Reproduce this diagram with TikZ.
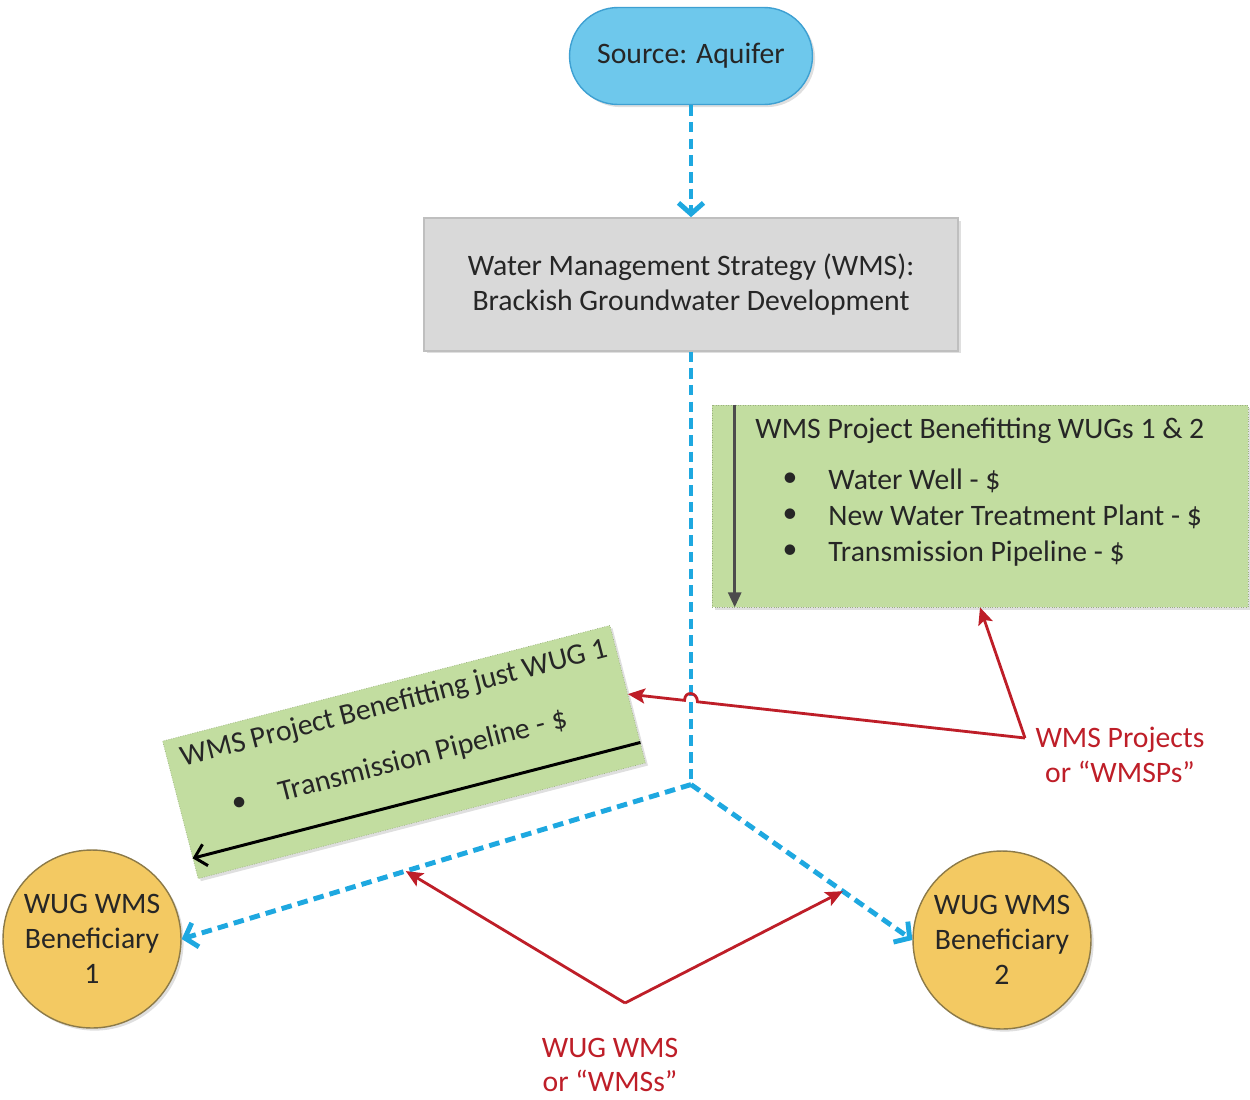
\documentclass[tikz,border=0pt]{standalone}
\usepackage{fontspec}
\setmainfont{Carlito}
\usepackage{xcolor}
\usepackage{tikz}
\usetikzlibrary{arrows.meta, positioning, calc, shadows}

\definecolor{aqua}{RGB}{110,200,236}
\definecolor{aquaedge}{RGB}{62,160,210}
\definecolor{flow}{RGB}{30,168,224}
\definecolor{boxgray}{RGB}{217,217,217}
\definecolor{leaf}{RGB}{194,221,160}
\definecolor{gold}{RGB}{243,201,98}
\definecolor{goldedge}{RGB}{140,122,72}
\definecolor{tag}{RGB}{190,30,40}

\begin{document}
\begin{tikzpicture}[
        x=0.02cm, y=-0.02cm,
        font=\fontsize{16.9}{19.8}\selectfont,
        lift/.style={drop shadow={opacity=0.25, shadow xshift=1.5pt, shadow yshift=-1.5pt}},
        source/.style={rectangle, rounded corners=0.97cm, fill=aqua, draw=aquaedge, thick,
            minimum width=4.86cm, minimum height=1.94cm, text=black!85, lift},
        strategy/.style={rectangle, fill=boxgray, draw=black!25, thick, align=center,
            minimum width=10.68cm, minimum height=2.66cm, text=black!85, lift},
        project/.style={rectangle, fill=leaf, draw=leaf!80!black, densely dotted, thin, lift},
        user/.style={circle, fill=gold, draw=goldedge, thick, align=center, inner sep=0,
            minimum size=3.56cm, text=black!85, lift},
        txt/.style={inner sep=0, text=black!85},
        tagtext/.style={align=center, text=tag},
        flowdash/.style={draw=flow, line width=2.8pt, dash pattern=on 6pt off 3.5pt},
        flowline/.style={flowdash, -{Straight Barb[length=2.2mm, width=5mm]}},
        tagline/.style={draw=tag, line width=1.6pt, -{Stealth[length=3.4mm, width=3mm, inset=0.7mm]}},
        garrow/.style={draw=black!70, line width=1.6pt, -{Triangle[length=3mm, width=2.6mm]}},
        karrow/.style={draw=black, line width=1.7pt, -{Straight Barb[length=2.2mm, width=4.4mm]}}
    ]
        \useasboundingbox (0,0) rectangle (1250,1099);

        \node[source] (src) at (691,56) {Source: Aquifer};
        \node[strategy, below=2.24cm of src] (wms) {Water Management Strategy (WMS):\\Brackish Groundwater Development};
        \coordinate (fork) at ($(wms.south)+(0,433)$);

        \node[user] (u1) at (92,939) {WUG WMS\\Beneficiary\\1};
        \node[user] (u2) at (1002,940) {WUG WMS\\Beneficiary\\2};

        % project shared by both users
        \node[project, minimum width=10.72cm, minimum height=4.04cm] (bx2) at (980,506) {};
        \node[txt, anchor=base west] (h2) at (755,438) {WMS Project Benefitting WUGs 1 \& 2};
        \foreach \t [count=\i] in {Water Well - \$, New Water Treatment Plant - \$, Transmission Pipeline - \$} {
            \node[txt] (d2\i) at (790,{444+36*\i}) {\textbullet};
            \node[txt, anchor=base west] (i2\i) at (828,{453+36*\i}) {\t};
        }
        \draw[garrow] ([xshift=0.46cm]bx2.north west) -- ([xshift=0.46cm]bx2.south west);

        % project for user 1 only
        \begin{scope}[shift={(404,752)}, rotate=14.5, transform shape]
            \node[project, minimum width=9.24cm, minimum height=2.84cm] (bx1) at (0,0) {};
            \node[txt, anchor=base west] (h1) at (-217,-41) {WMS Project Benefitting just WUG 1};
            \node[txt] (d1) at (-172,9) {\textbullet};
            \node[txt, anchor=base west] (i1) at (-131,17) {Transmission Pipeline - \$};
        \end{scope}
        \draw[karrow] ($(bx1.south east)!0.15!(bx1.north east)$) -- ($(bx1.south west)!0.15!(bx1.north west)$);

        % water flow
        \draw[flowline] (src) -- (wms);
        \draw[flowdash] (wms) -- (fork);
        \draw[flowline] (fork) -- (u1.east);
        \draw[flowline] (fork) -- (u2.west);

        % labels
        \node[tagtext] (lbl2) at (1120,755) {WMS Projects\\or “WMSPs”};
        \node[tagtext] (lbl1) at (610,1065) {WUG WMS\\or “WMSs”};
        \coordinate (pj) at (1025,738);
        \coordinate (vw) at (625,1003);
        \coordinate (m1) at ($(fork)!0.56!(u1.east)$);
        \coordinate (m2) at ($(fork)!0.686!(u2.west)$);
        \coordinate (hop) at (intersection of pj--bx1.east and wms.south--fork);
        \coordinate (hopR) at ($(hop)!0.13cm!(pj)$);
        \coordinate (hopL) at ($(hop)!0.13cm!(bx1.east)$);

        \draw[tagline] (pj) -- (bx2.south);
        \draw[tagline] (pj) -- (hopR) .. controls +(0,-10) and +(0,-10) .. (hopL) -- (bx1.east);
        \draw[tagline] (vw) -- (m1);
        \draw[tagline] (vw) -- (m2);
    \end{tikzpicture}
\end{document}
